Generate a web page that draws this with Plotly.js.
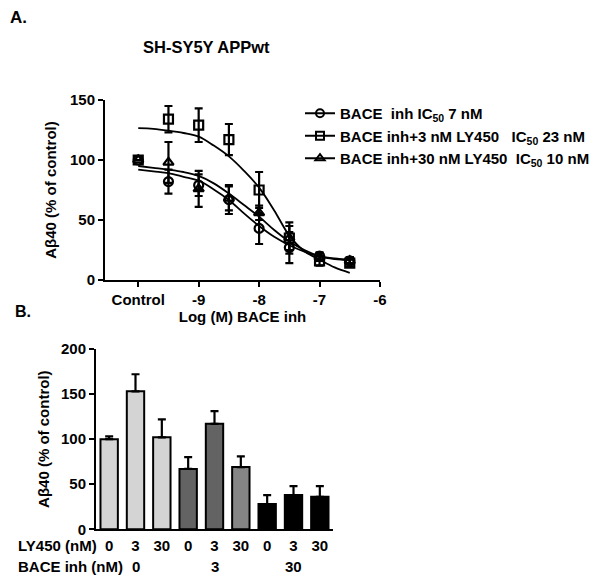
<!DOCTYPE html>
<html><head><meta charset="utf-8">
<script src="https://cdn.plot.ly/plotly-3.0.1.min.js"></script>
<style>body{margin:0;background:#fff}#chart{width:600px;height:582px}</style>
</head><body><div id="chart"></div>
<script>
// Panel A: dose-response data (log M BACE inh; Control plotted at -10)
const doseX = [-10, -9.5, -9, -8.5, -8, -7.5, -7, -6.5];
const doseTicks = [-10, -9, -8, -7, -6];
const doseTickText = ['Control', '-9', '-8', '-7', '-6'];
const bace = [100, 82, 79, 67, 43, 27, 20, 16];
const baceErr = [0, 10, 9, 12, 13, 13, 3, 3];
const bace3 = [100, 134, 129, 117, 75, 35, 16, 14];
const bace3Err = [0, 11, 14, 13, 15, 13, 4, 3];
const bace30 = [100, 98, 76, 68, 56, 35, 19, 16];
const bace30Err = [0, 17, 15, 10, 6, 10, 3, 3];
// fitted curves
const fitX = [-10, -9.75, -9.5, -9.25, -9, -8.75, -8.5, -8.25, -8, -7.75, -7.5, -7.25, -7, -6.75, -6.5];
const fitBace = [92, 90.5, 89, 86, 82.8, 75.5, 66.7, 55.5, 45, 36, 29, 23.6, 19.5, 17.5, 16.5];
const fitBace3 = [126.5, 126, 124.5, 122.5, 119.5, 112, 103, 91, 77, 58, 37, 24, 17, 10.5, 6];
const fitBace30 = [95, 93.5, 92, 90, 86.7, 80.5, 72, 62.5, 52.8, 41.7, 32, 25, 20, 18, 16.8];
const legendNames = ['BACE  inh IC<sub>50</sub> 7 nM', 'BACE inh+3 nM LY450   IC<sub>50</sub> 23 nM', 'BACE inh+30 nM LY450  IC<sub>50</sub> 10 nM'];

// Panel B: bar data
const ly450 = ['0', '3', '30', '0', '3', '30', '0', '3', '30'];
const baceGroups = ['0', '3', '30'];
const barVals = [100, 153, 102, 67, 117, 69, 28, 38, 36];
const barErr = [3, 19, 20, 13, 14, 12, 10, 10, 12];
const barColors = ['#d4d4d4', '#d4d4d4', '#d4d4d4', '#636363', '#636363', '#858585', '#000', '#000', '#000'];

const F = 'Liberation Sans, Arial, sans-serif';
const bf = (s) => ({family: F, size: s, color: '#000', weight: 700});

const eb = (arr) => ({type: 'data', array: arr, visible: true, color: '#000', thickness: 2.2, width: 4});
const symbols = ['circle-open', 'square-open', 'triangle-up-open'];
const sets = [[bace, baceErr, fitBace], [bace3, bace3Err, fitBace3], [bace30, bace30Err, fitBace30]];

const traces = [];
sets.forEach((s, i) => {
  traces.push({x: fitX, y: s[2], mode: 'lines', line: {color: '#000', width: 1.8, shape: 'spline'}, showlegend: false, xaxis: 'x', yaxis: 'y', hoverinfo: 'skip'});
});
sets.forEach((s, i) => {
  traces.push({x: doseX, y: s[0], mode: 'markers', error_y: eb(s[1]),
    marker: {symbol: symbols[i], size: 9, color: '#000', line: {color: '#000', width: 2.2}},
    showlegend: false, xaxis: 'x', yaxis: 'y', cliponaxis: false});
});
sets.forEach((s, i) => {
  traces.push({x: [null], y: [null], mode: 'lines+markers', name: legendNames[i],
    marker: {symbol: symbols[i], size: 8, color: '#000', line: {color: '#000', width: 2}},
    line: {color: '#000', width: 2}, xaxis: 'x', yaxis: 'y'});
});
traces.push({type: 'bar', x: [0,1,2,3,4,5,6,7,8], y: barVals, width: 0.66,
  marker: {color: barColors, line: {color: '#000', width: 2}},
  error_y: {type: 'data', array: barErr, arrayminus: barErr.map(() => 0), visible: true, color: '#000', thickness: 2.2, width: 4},
  showlegend: false, xaxis: 'x2', yaxis: 'y2'});

const axBase = {showline: true, linecolor: '#000', linewidth: 2, ticks: 'outside', ticklen: 5, tickwidth: 2, tickcolor: '#000',
  showgrid: false, zeroline: false, tickfont: bf(15)};

const py = (p) => 1 - p / 582;
const px = (p) => p / 600;

const layout = {
  width: 600, height: 582, margin: {l: 0, r: 0, t: 0, b: 0},
  paper_bgcolor: '#fff', plot_bgcolor: '#fff', font: {family: F, color: '#000'},
  xaxis: Object.assign({}, axBase, {domain: [0.175, 0.6333], range: [-10.55, -6], anchor: 'y',
    tickvals: doseTicks, ticktext: doseTickText,
    title: {text: 'Log (M) BACE inh', font: bf(15), standoff: 2}}),
  yaxis: Object.assign({}, axBase, {domain: [py(280), py(100)], range: [0, 150], anchor: 'x',
    tickvals: [0, 50, 100, 150], title: {text: 'Aβ40 (% of control)', font: bf(15), standoff: 10}}),
  xaxis2: Object.assign({}, axBase, {domain: [0.16, 0.555], range: [-0.5, 8.5], anchor: 'y2',
    tickvals: [0,1,2,3,4,5,6,7,8], ticktext: ly450, ticks: '', ticklabelstandoff: 2}),
  yaxis2: Object.assign({}, axBase, {domain: [py(529.3), py(349)], range: [0, 200], anchor: 'x2',
    tickvals: [0, 50, 100, 150, 200], title: {text: 'Aβ40 (% of control)', font: bf(15), standoff: 8}}),
  legend: {x: px(300), y: py(97), xanchor: 'left', yanchor: 'top', font: bf(15), bgcolor: 'rgba(0,0,0,0)',
    itemwidth: 30, tracegroupgap: 0},
  annotations: [
    {text: 'A.', x: px(8), y: py(17), xref: 'paper', yref: 'paper', xanchor: 'left', yanchor: 'middle', showarrow: false, font: bf(17)},
    {text: 'B.', x: px(13), y: py(311), xref: 'paper', yref: 'paper', xanchor: 'left', yanchor: 'middle', showarrow: false, font: bf(16)},
    {text: 'SH-SY5Y APPwt', x: px(206), y: py(47), xref: 'paper', yref: 'paper', xanchor: 'center', yanchor: 'middle', showarrow: false, font: bf(16.5)},
    {text: 'LY450 (nM)', x: px(16), y: py(545), xref: 'paper', yref: 'paper', xanchor: 'left', yanchor: 'middle', showarrow: false, font: bf(15)},
    {text: 'BACE inh (nM)', x: px(16), y: py(566), xref: 'paper', yref: 'paper', xanchor: 'left', yanchor: 'middle', showarrow: false, font: bf(15)},
    {text: baceGroups[0], x: 1, y: py(566), xref: 'x2', yref: 'paper', xanchor: 'center', yanchor: 'middle', showarrow: false, font: bf(15)},
    {text: baceGroups[1], x: 4, y: py(566), xref: 'x2', yref: 'paper', xanchor: 'center', yanchor: 'middle', showarrow: false, font: bf(15)},
    {text: baceGroups[2], x: 7, y: py(566), xref: 'x2', yref: 'paper', xanchor: 'center', yanchor: 'middle', showarrow: false, font: bf(15)}
  ]
};

Plotly.newPlot('chart', traces, layout, {displayModeBar: false, staticPlot: true});
</script></body></html>
